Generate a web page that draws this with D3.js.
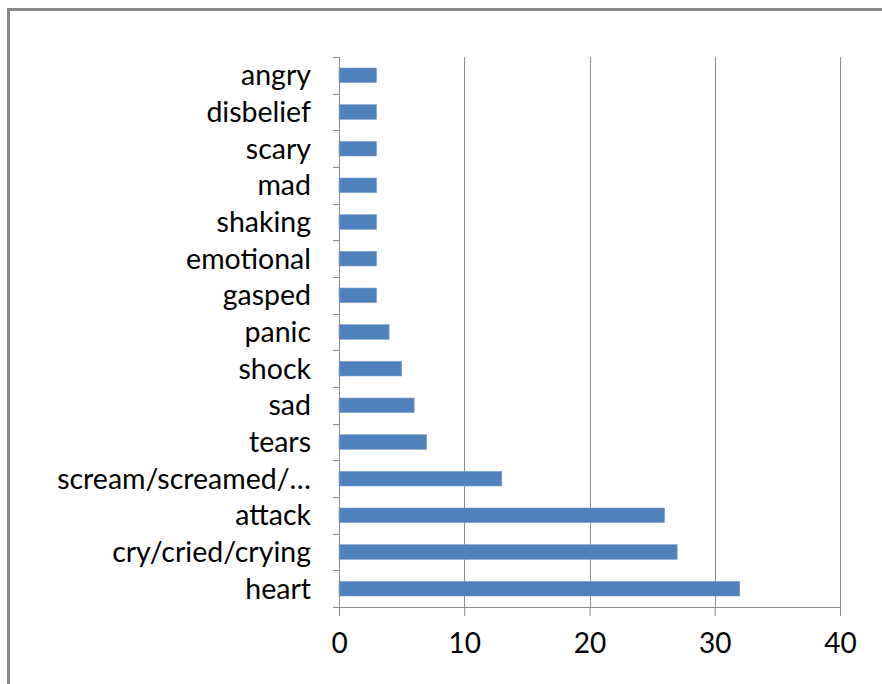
<!DOCTYPE html>
<html>
<head>
<meta charset="utf-8">
<script src="https://cdn.jsdelivr.net/npm/d3@7"></script>
<style>
  html, body { margin: 0; padding: 0; background: #fff; }
  svg { display: block; }
</style>
</head>
<body>
<svg id="chart" width="882" height="684"></svg>
<script>
const categories = ["angry", "disbelief", "scary", "mad", "shaking", "emotional", "gasped", "panic", "shock", "sad", "tears", "scream/screamed/…", "attack", "cry/cried/crying", "heart"];
const values = [3, 3, 3, 3, 3, 3, 3, 4, 5, 6, 7, 13, 26, 27, 32];
const xTicks = [0, 10, 20, 30, 40];

const svg = d3.select("#chart");
const W = 882, H = 684;
const margin = { left: 339, right: 42, top: 57, bottom: 77 };
const FONT = "Lato, 'Open Sans', sans-serif";

// frame
svg.append("rect")
  .attr("x", 8.5).attr("y", 9.5)
  .attr("width", 900).attr("height", 700)
  .attr("fill", "#fff")
  .attr("stroke", "#888").attr("stroke-width", 3);

const x = d3.scaleLinear().domain([0, 40]).range([margin.left, W - margin.right]);
const y = d3.scaleBand().domain(categories).range([margin.top, H - margin.bottom]).paddingInner(0.6).paddingOuter(0.3);
const yb = d3.scaleBand().domain(categories).range([margin.top, H - margin.bottom]);

const g = svg.append("g");

// gridlines
g.selectAll("line.grid").data(xTicks.slice(1)).join("line")
  .attr("class", "grid")
  .attr("x1", d => Math.round(x(d)) + 0.5).attr("x2", d => Math.round(x(d)) + 0.5)
  .attr("y1", margin.top).attr("y2", H - margin.bottom)
  .attr("stroke", "#8c8c8c").attr("stroke-width", 1);

// bars
g.selectAll("rect.bar").data(categories).join("rect")
  .attr("class", "bar")
  .attr("x", x(0))
  .attr("y", d => y(d))
  .attr("width", (d, i) => x(values[i]) - x(0))
  .attr("height", y.bandwidth())
  .attr("fill", "#4F81BD")
  .attr("stroke", "#7ea3d3").attr("stroke-width", 0.6);

// x axis
const xAxis = d3.axisBottom(x).tickValues(xTicks).tickSize(9).tickPadding(17).tickSizeOuter(0);
const xg = g.append("g").attr("transform", `translate(0,${H - margin.bottom})`).call(xAxis);
xg.select(".domain").attr("stroke", "#8c8c8c");
xg.selectAll(".tick line").attr("stroke", "#8c8c8c");
xg.selectAll(".tick text").attr("fill", "#000").style("font-family", FONT).style("font-size", "28px");

// y axis line + ticks at category boundaries
const yLine = g.append("g");
yLine.append("line")
  .attr("x1", x(0) + 0.5).attr("x2", x(0) + 0.5)
  .attr("y1", margin.top).attr("y2", H - margin.bottom + 9)
  .attr("stroke", "#8c8c8c");
const bounds = categories.map(c => yb(c)).concat([H - margin.bottom]);
yLine.selectAll("line.yt").data(bounds).join("line")
  .attr("class", "yt")
  .attr("x1", x(0) - 6).attr("x2", x(0))
  .attr("y1", d => Math.round(d) + 0.5).attr("y2", d => Math.round(d) + 0.5)
  .attr("stroke", "#8c8c8c");

// y labels
g.selectAll("text.ylab").data(categories).join("text")
  .attr("class", "ylab")
  .attr("x", x(0) - 28)
  .attr("y", d => yb(d) + yb.bandwidth() / 2)
  .attr("dy", "0.35em")
  .attr("text-anchor", "end")
  .style("font-family", FONT).style("font-size", "28.5px")
  .attr("fill", "#000")
  .text(d => d);
</script>
</body>
</html>
